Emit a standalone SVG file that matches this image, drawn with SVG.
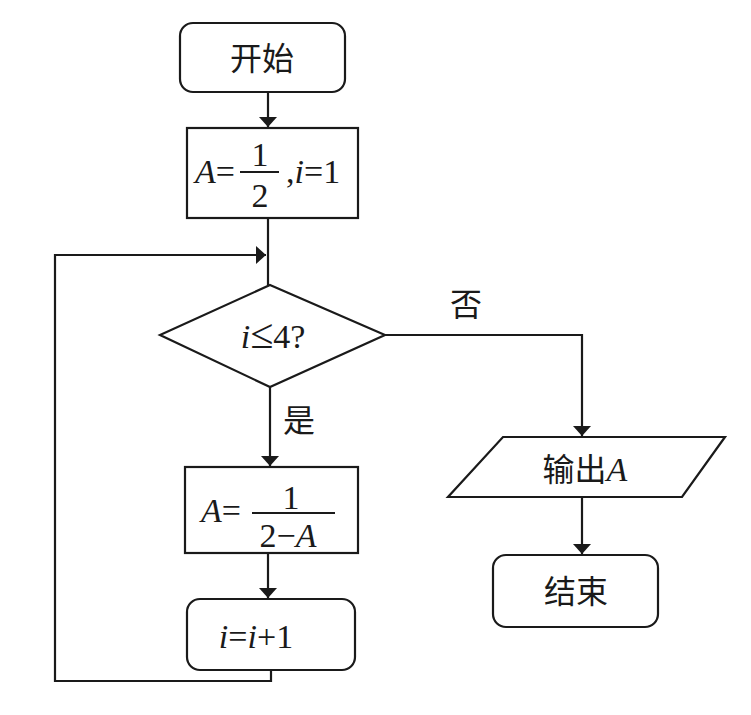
<svg xmlns="http://www.w3.org/2000/svg" width="751" height="715" viewBox="0 0 751 715">
<style>
.s{fill:#fff;stroke:#1a1a1a;stroke-width:2.2}
.c{fill:none;stroke:#1a1a1a;stroke-width:2.2}
.t{font-family:"Liberation Serif","Noto Sans CJK SC",serif;font-size:34px;fill:#1a1a1a}
.z{font-family:"Noto Sans CJK SC",sans-serif;font-size:32px;fill:#1a1a1a}
.i{font-style:italic}
</style>
<defs>
<marker id="a" viewBox="0 0 10 18" refX="10" refY="9" markerWidth="10" markerHeight="18" markerUnits="userSpaceOnUse" orient="auto">
<path d="M0,0 L10,9 L0,18 Z" fill="#1a1a1a"/>
</marker>
</defs>
<rect width="751" height="715" fill="#fff"/>
<g id="connectors">
<line class="c" x1="268" y1="92" x2="268" y2="127" marker-end="url(#a)"/>
<line class="c" x1="268" y1="218" x2="268" y2="285"/>
<polyline class="c" points="271,670 271,681 55,681 55,255 266,255" marker-end="url(#a)"/>
<line class="c" x1="270" y1="387" x2="270" y2="466" marker-end="url(#a)"/>
<line class="c" x1="268" y1="553" x2="268" y2="598" marker-end="url(#a)"/>
<polyline class="c" points="385,335 582,335 582,436" marker-end="url(#a)"/>
<line class="c" x1="582" y1="497" x2="582" y2="554" marker-end="url(#a)"/>
<text class="z" x="466" y="316" text-anchor="middle">否</text>
<text class="z" x="299" y="432" text-anchor="middle">是</text>
</g>
<g id="start">
<rect class="s" x="180" y="23" width="165" height="69" rx="13"/>
<text class="z" x="262" y="70" text-anchor="middle">开始</text>
</g>
<g id="init">
<rect class="s" x="187" y="128" width="171" height="90"/>
<text class="t" x="195" y="183"><tspan class="i">A</tspan>=</text>
<line class="c" x1="240" y1="172" x2="279" y2="172" stroke-width="2"/>
<text class="t" x="260" y="166" text-anchor="middle">1</text>
<text class="t" x="260" y="207" text-anchor="middle">2</text>
<text class="t" x="286" y="183">,<tspan class="i">i</tspan>=1</text>
</g>
<g id="cond">
<polygon class="s" points="270,285 385,335 270,387 160,335"/>
<text class="t" x="273" y="348" text-anchor="middle"><tspan class="i">i</tspan><tspan font-size="42">≤</tspan>4?</text>
</g>
<g id="update">
<rect class="s" x="185" y="467" width="173" height="86"/>
<text class="t" x="201" y="522"><tspan class="i">A</tspan>=</text>
<line class="c" x1="252" y1="513" x2="335" y2="513" stroke-width="2"/>
<text class="t" x="291" y="509" text-anchor="middle">1</text>
<text class="t" x="288" y="547" text-anchor="middle">2−<tspan class="i">A</tspan></text>
</g>
<g id="inc">
<rect class="s" x="187" y="599" width="168" height="71" rx="13"/>
<text class="t" x="256" y="648" text-anchor="middle"><tspan class="i">i</tspan>=<tspan class="i">i</tspan>+1</text>
</g>
<g id="output">
<polygon class="s" points="503,437 725,437 682,497 448,497"/>
<text x="585" y="481" text-anchor="middle"><tspan class="z">输出</tspan><tspan class="t i">A</tspan></text>
</g>
<g id="end">
<rect class="s" x="493" y="555" width="165" height="72" rx="13"/>
<text class="z" x="576" y="603" text-anchor="middle">结束</text>
</g>
</svg>
